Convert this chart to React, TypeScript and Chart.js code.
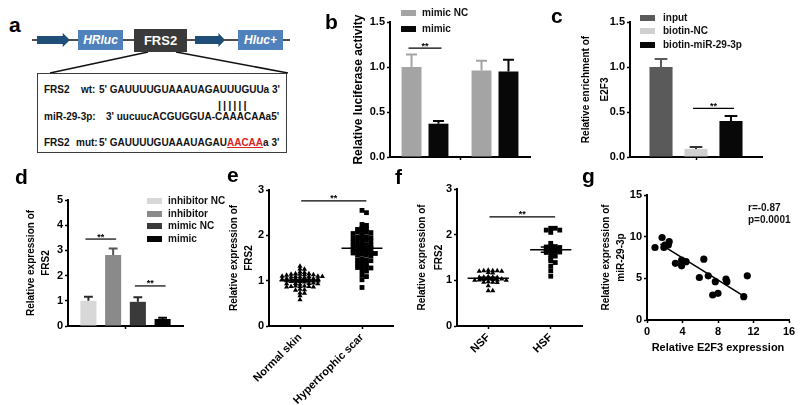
import React, { useEffect, useRef } from 'react';
import { Chart, registerables } from 'chart.js';
Chart.register(...registerables);

const FONT = '"Liberation Sans", Arial, Helvetica, sans-serif';

// ---------- panel b : luciferase ----------
const bGroups = ['FRS2 wt', 'FRS2 mut'];
const bSeriesNames = ['mimic NC', 'mimic'];
const bMimicNC = [1.0, 0.96];
const bMimicNCErr = [0.14, 0.11];
const bMimic = [0.37, 0.95];
const bMimicErr = [0.03, 0.13];
const bSigLevels = [1.21];
const bTitle = 'Relative luciferase activity';
const bColors = ['#a4a4a4', '#080808'];

// ---------- panel c : RNA pull-down ----------
const cGroups = ['E2F3'];
const cSeriesNames = ['input', 'biotin-NC', 'biotin-miR-29-3p'];
const cValues = [1.0, 0.09, 0.4];
const cErr = [0.09, 0.02, 0.055];
const cSigLevels = [0.54];
const cTitle = ['Relative enrichment of', 'E2F3'];
const cColors = ['#5a5a5a', '#d0d0d0', '#080808'];
const cErrColors = ['#5a5a5a', '#333333', '#080808'];

// ---------- panel d : FRS2 expression ----------
const dGroups = ['FRS2'];
const dSeriesNames = ['inhibitor NC', 'inhibitor', 'mimic NC', 'mimic'];
const dValues = [1.0, 2.82, 0.96, 0.28];
const dErr = [0.16, 0.26, 0.18, 0.05];
const dSigLevels = [3.45, 1.59];
const dTitle = ['Relative expression of', 'FRS2'];
const dColors = ['#d8d8d8', '#8a8a8a', '#3a3a3a', '#050505'];
const dErrColors = ['#2a2a2a', '#555555', '#2a2a2a', '#050505'];

// ---------- panel e : tissue ----------
const eCategories = ['Normal skin', 'Hypertrophic scar'];
const eNormalSkin = [
  1.32, 1.26, 1.25, 1.19, 1.18, 1.15, 1.14, 1.14, 1.13, 1.13, 1.12, 1.15,
  1.1, 1.09, 1.09, 1.08, 1.08, 1.07, 1.1, 1.09, 1.05, 1.04, 1.04, 1.03, 1.03,
  1.02, 1.05, 1.04, 1.03, 1.0, 0.99, 0.99, 0.98, 0.98, 0.97, 1.0, 0.99, 0.94,
  0.93, 0.93, 0.92, 0.95, 0.94, 0.88, 0.87, 0.87, 0.86, 0.86, 0.88, 0.87,
  0.81, 0.8, 0.79, 0.73, 0.72, 0.67, 0.58,
];
const eHypertrophicScar = [
  2.55, 2.5, 2.24, 2.22, 2.16, 2.15, 2.13, 2.11, 2.08, 2.07, 2.06, 2.05, 2.04,
  1.98, 1.97, 1.96, 1.95, 1.94, 1.93, 1.89, 1.88, 1.87, 1.86, 1.85, 1.8, 1.79,
  1.78, 1.77, 1.76, 1.75, 1.73, 1.72, 1.71, 1.7, 1.69, 1.68, 1.65, 1.64, 1.63,
  1.62, 1.61, 1.6, 1.58, 1.57, 1.56, 1.55, 1.47, 1.46, 1.45, 1.44, 1.39, 1.38,
  1.37, 1.31, 1.3, 1.29, 1.28, 1.22, 1.21, 1.12, 1.09, 1.02, 0.85,
];
const eSigLevel = 2.76;
const eTitle = ['Relative expression of', 'FRS2'];

// ---------- panel f : fibroblasts ----------
const fCategories = ['NSF', 'HSF'];
const fNSF = [
  1.22, 1.21, 1.21, 1.2, 1.21, 1.2, 1.17, 1.16, 1.08, 1.07, 1.07, 1.06, 1.06,
  1.03, 1.03, 1.02, 1.02, 1.01, 1.01, 1.0, 1.0, 0.97, 0.96, 0.96, 0.95, 0.88,
  0.77, 0.77,
];
const fHSF = [
  2.14, 2.14, 2.1, 2.1, 2.05, 1.81, 1.75, 1.74, 1.73, 1.72, 1.69, 1.68, 1.67,
  1.64, 1.63, 1.62, 1.61, 1.55, 1.53, 1.48, 1.43, 1.39, 1.31, 1.21, 1.09,
];
const fSigLevel = 2.39;
const fTitle = ['Relative expression of', 'FRS2'];

// ---------- panel g : correlation ----------
const gE2F3 = [0.9, 1.7, 1.9, 2.0, 2.4, 2.5, 3.2, 3.9, 3.9, 4.4, 6.4, 5.9, 6.9, 7.7, 7.4, 8.0, 8.9, 9.0, 10.9, 11.3];
const gMiR = [8.7, 9.9, 8.7, 9.0, 9.0, 9.4, 6.8, 7.2, 6.5, 7.0, 7.3, 5.1, 5.3, 4.6, 3.0, 3.2, 4.9, 4.6, 2.8, 5.3];
const gFitX = [1.5, 11.0];
const gFitY = [9.1, 2.8];
const gStats = ['r=-0.87', 'p=0.0001'];
const gXTitle = 'Relative E2F3 expression';
const gYTitle = ['Relative expression of', 'miR-29-3p'];

// ---------------- helpers ----------------
function yAxis(o: { min: number; max: number; step: number; title: any; size: number; lh: number; width: number; dec?: number }) {
  return {
    type: 'linear',
    min: o.min,
    max: o.max,
    ticks: {
      stepSize: o.step,
      color: '#000',
      padding: 2,
      font: { family: FONT, size: 11, weight: 'bold' },
      callback: (v: any) => (o.dec ? Number(v).toFixed(o.dec) : String(v)),
    },
    grid: { drawOnChartArea: false, drawTicks: true, tickLength: 3, tickColor: '#000', tickWidth: 1.5 },
    border: { display: true, color: '#000', width: 2 },
    title: {
      display: true,
      text: o.title,
      color: '#000',
      padding: 0,
      font: { family: FONT, size: o.size, weight: 'bold', lineHeight: o.lh + 'px' },
    },
    afterFit: (s: any) => {
      s.width = o.width;
    },
  };
}

function barX(height: number, offsetGrid: boolean, tickIndex: number) {
  return {
    type: 'category',
    ticks: { display: false },
    grid: {
      drawOnChartArea: false,
      drawTicks: true,
      tickLength: 3,
      tickWidth: 1.5,
      offset: offsetGrid,
      tickColor: (c: any) => (c.index === tickIndex ? '#000' : 'rgba(0,0,0,0)'),
    },
    border: { display: true, color: '#000', width: 2 },
    afterFit: (s: any) => {
      s.height = height;
    },
  };
}

function baseOptions(padding: any) {
  return {
    responsive: false,
    animation: false,
    events: [],
    layout: { padding },
    plugins: { legend: { display: false }, tooltip: { enabled: false } },
  };
}

const errorBarPlugin = (errs: number[][], colors: string[]) => ({
  id: 'errorBars',
  afterDatasetsDraw(chart: any) {
    const ctx = chart.ctx;
    const y = chart.scales.y;
    errs.forEach((arr, di) => {
      const meta = chart.getDatasetMeta(di);
      meta.data.forEach((el: any, j: number) => {
        const v = chart.data.datasets[di].data[j] as number;
        const top = y.getPixelForValue(v + arr[j]);
        const cap = el.width * 0.55;
        ctx.save();
        ctx.strokeStyle = colors[di];
        ctx.lineWidth = 2;
        ctx.beginPath();
        ctx.moveTo(el.x, el.y);
        ctx.lineTo(el.x, top);
        ctx.moveTo(el.x - cap / 2, top);
        ctx.lineTo(el.x + cap / 2, top);
        ctx.stroke();
        ctx.restore();
      });
    });
  },
});

function drawSig(ctx: any, xa: number, xb: number, yy: number) {
  ctx.save();
  ctx.strokeStyle = '#000';
  ctx.lineWidth = 1.2;
  ctx.beginPath();
  ctx.moveTo(xa, yy);
  ctx.lineTo(xb, yy);
  ctx.stroke();
  ctx.fillStyle = '#000';
  ctx.font = `bold 9px ${FONT}`;
  ctx.textAlign = 'center';
  ctx.textBaseline = 'alphabetic';
  ctx.fillText('**', (xa + xb) / 2, yy + 0.5);
  ctx.restore();
}

const barSigPlugin = (pairs: number[][], levels: number[]) => ({
  id: 'barSig',
  afterDatasetsDraw(chart: any) {
    const y = chart.scales.y;
    pairs.forEach((p, k) => {
      const a = chart.getDatasetMeta(p[0]).data[p[1]];
      const b = chart.getDatasetMeta(p[2]).data[p[3]];
      drawSig(chart.ctx, a.x - 3, b.x + 3, y.getPixelForValue(levels[k]));
    });
  },
});

const swarmStatsPlugin = (groups: number[][], sigY: number) => ({
  id: 'swarmStats',
  afterDatasetsDraw(chart: any) {
    const ctx = chart.ctx;
    const xs = chart.scales.x;
    const ys = chart.scales.y;
    ctx.save();
    ctx.strokeStyle = '#000';
    ctx.lineWidth = 1.5;
    groups.forEach((vals, i) => {
      const n = vals.length;
      const m = vals.reduce((a, b) => a + b, 0) / n;
      const sd = Math.sqrt(vals.reduce((a, b) => a + (b - m) * (b - m), 0) / (n - 1));
      const se = sd / Math.sqrt(n);
      const ym = ys.getPixelForValue(m);
      const yt = ys.getPixelForValue(m + se);
      const yb = ys.getPixelForValue(m - se);
      const l = xs.getPixelForValue(i - 0.33);
      const r = xs.getPixelForValue(i + 0.33);
      const cl = xs.getPixelForValue(i - 0.16);
      const cr = xs.getPixelForValue(i + 0.16);
      const cx = xs.getPixelForValue(i);
      ctx.beginPath();
      ctx.moveTo(l, ym);
      ctx.lineTo(r, ym);
      ctx.moveTo(cx, yt);
      ctx.lineTo(cx, yb);
      ctx.moveTo(cl, yt);
      ctx.lineTo(cr, yt);
      ctx.moveTo(cl, yb);
      ctx.lineTo(cr, yb);
      ctx.stroke();
    });
    ctx.restore();
    drawSig(ctx, xs.getPixelForValue(0.02), xs.getPixelForValue(1.07), ys.getPixelForValue(sigY));
  },
});

// beeswarm layout: horizontal offsets computed from the values
function swarm(values: number[], cat: number, stepX: number, minDy: number) {
  const placed: { x: number; y: number }[] = [];
  const sorted = [...values].sort((a, b) => b - a);
  for (const v of sorted) {
    let k = 0;
    let off = 0;
    for (;;) {
      const cands = k === 0 ? [0] : [k * stepX, -k * stepX];
      let found: number | null = null;
      for (const c of cands) {
        const hit = placed.some((p) => Math.abs(p.y - v) < minDy && Math.abs(p.x - (cat + c)) < stepX * 0.999);
        if (!hit) {
          found = c;
          break;
        }
      }
      if (found !== null) {
        off = found;
        break;
      }
      k++;
    }
    placed.push({ x: cat + off, y: v });
  }
  return placed;
}

function swarmConfig(o: {
  cats: string[];
  groups: number[][];
  styles: string[];
  radii: number[];
  sigY: number;
  title: string[];
  lh: number;
  yWidth: number;
  xHeight: number;
  padding: any;
}) {
  return {
    type: 'scatter',
    data: {
      datasets: o.groups.map((vals, i) => ({
        label: o.cats[i],
        data: swarm(vals, i, 0.072, 0.05),
        pointStyle: o.styles[i],
        pointRadius: o.radii[i],
        pointBackgroundColor: '#000',
        pointBorderColor: '#000',
        pointBorderWidth: 0,
        clip: false,
      })),
    },
    options: {
      ...baseOptions(o.padding),
      scales: {
        x: {
          type: 'linear',
          min: -0.5,
          max: 1.5,
          afterBuildTicks: (s: any) => {
            s.ticks = o.cats.map((_, i) => ({ value: i }));
          },
          ticks: {
            autoSkip: false,
            minRotation: 45,
            maxRotation: 45,
            padding: 2,
            color: '#000',
            font: { family: FONT, size: 11, weight: 'bold' },
            callback: (_v: any, idx: number) => o.cats[idx],
          },
          grid: { drawOnChartArea: false, drawTicks: true, tickLength: 3, tickColor: '#000', tickWidth: 1.5 },
          border: { display: true, color: '#000', width: 2 },
          afterFit: (s: any) => {
            s.height = o.xHeight;
          },
        },
        y: yAxis({ min: 0, max: 3, step: 1, title: o.title, size: 10, lh: o.lh, width: o.yWidth }),
      },
    },
    plugins: [swarmStatsPlugin(o.groups, o.sigY)],
  };
}

// ---------------- chart configs ----------------
const makeB = () => ({
  type: 'bar',
  data: {
    labels: bGroups,
    datasets: [
      { label: bSeriesNames[0], data: bMimicNC, backgroundColor: bColors[0], categoryPercentage: 0.77, barPercentage: 0.74 },
      { label: bSeriesNames[1], data: bMimic, backgroundColor: bColors[1], categoryPercentage: 0.77, barPercentage: 0.74 },
    ],
  },
  options: {
    ...baseOptions({ top: 22, right: 13, left: 0, bottom: 0 }),
    scales: {
      x: barX(18, true, 1),
      y: yAxis({ min: 0, max: 1.5, step: 0.5, title: bTitle, size: 12, lh: 14, width: 38, dec: 1 }),
    },
  },
  plugins: [errorBarPlugin([bMimicNCErr, bMimicErr], bColors), barSigPlugin([[0, 0, 1, 0]], bSigLevels)],
});

const makeC = () => ({
  type: 'bar',
  data: {
    labels: cGroups,
    datasets: cSeriesNames.map((name, i) => ({
      label: name,
      data: [cValues[i]],
      backgroundColor: cColors[i],
      categoryPercentage: 0.795,
      barPercentage: 0.66,
    })),
  },
  options: {
    ...baseOptions({ top: 22, right: 18, left: 0, bottom: 0 }),
    scales: {
      x: barX(18, false, 0),
      y: yAxis({ min: 0, max: 1.5, step: 0.5, title: cTitle, size: 10, lh: 19, width: 53, dec: 1 }),
    },
  },
  plugins: [errorBarPlugin(cErr.map((e) => [e]), cErrColors), barSigPlugin([[1, 0, 2, 0]], cSigLevels)],
});

const makeD = () => ({
  type: 'bar',
  data: {
    labels: dGroups,
    datasets: dSeriesNames.map((name, i) => ({
      label: name,
      data: [dValues[i]],
      backgroundColor: dColors[i],
      categoryPercentage: 0.86,
      barPercentage: 0.65,
    })),
  },
  options: {
    ...baseOptions({ top: 15, right: 32, left: 0, bottom: 0 }),
    scales: {
      x: barX(19, false, 0),
      y: yAxis({ min: 0, max: 5, step: 1, title: dTitle, size: 10, lh: 14.5, width: 44 }),
    },
  },
  plugins: [
    errorBarPlugin(dErr.map((e) => [e]), dErrColors),
    barSigPlugin([[0, 0, 1, 0], [2, 0, 3, 0]], dSigLevels),
  ],
});

const makeE = () =>
  swarmConfig({
    cats: eCategories,
    groups: [eNormalSkin, eHypertrophicScar],
    styles: ['triangle', 'rect'],
    radii: [3, 3.4],
    sigY: eSigLevel,
    title: eTitle,
    lh: 15,
    yWidth: 42,
    xHeight: 79,
    padding: { top: 10, right: 7, left: 0, bottom: 0 },
  });

const makeF = () =>
  swarmConfig({
    cats: fCategories,
    groups: [fNSF, fHSF],
    styles: ['triangle', 'rect'],
    radii: [3, 3.4],
    sigY: fSigLevel,
    title: fTitle,
    lh: 16.5,
    yWidth: 43,
    xHeight: 79,
    padding: { top: 9, right: 8, left: 0, bottom: 0 },
  });

const makeG = () => ({
  type: 'scatter',
  data: {
    datasets: [
      {
        label: 'samples',
        data: gE2F3.map((x, i) => ({ x, y: gMiR[i] })),
        pointRadius: 3.6,
        pointBackgroundColor: '#000',
        pointBorderWidth: 0,
        clip: false,
      },
      {
        label: 'fit',
        data: gFitX.map((x, i) => ({ x, y: gFitY[i] })),
        showLine: true,
        borderColor: '#000',
        borderWidth: 1.6,
        pointRadius: 0,
      },
    ],
  },
  options: {
    ...baseOptions({ top: 15, right: 9, left: 0, bottom: 0 }),
    scales: {
      x: {
        type: 'linear',
        min: 0,
        max: 16,
        ticks: { stepSize: 4, color: '#000', padding: 2, font: { family: FONT, size: 11, weight: 'bold' } },
        grid: { drawOnChartArea: false, drawTicks: true, tickLength: 3, tickColor: '#000', tickWidth: 1.5 },
        border: { display: true, color: '#000', width: 2 },
        title: { display: true, text: gXTitle, color: '#000', padding: 0, font: { family: FONT, size: 11, weight: 'bold', lineHeight: '14px' } },
        afterFit: (s: any) => {
          s.height = 35;
        },
      },
      y: yAxis({ min: 0, max: 15, step: 5, title: gYTitle, size: 10, lh: 14.5, width: 48 }),
    },
  },
});

// ---------------- components ----------------
type Box = { left: number; top: number; width: number; height: number };

function ChartCanvas({ box, make }: { box: Box; make: () => any }) {
  const ref = useRef<HTMLCanvasElement>(null);
  useEffect(() => {
    const chart = new Chart(ref.current as HTMLCanvasElement, make());
    return () => chart.destroy();
  }, []);
  return (
    <canvas
      ref={ref}
      width={box.width}
      height={box.height}
      style={{ position: 'absolute', left: box.left, top: box.top, width: box.width, height: box.height }}
    />
  );
}

function Legend({ left, textLeft, tops, names, colors }: { left: number; textLeft: number; tops: number[]; names: string[]; colors: string[] }) {
  return (
    <>
      {names.map((n, i) => (
        <React.Fragment key={n}>
          <div style={{ position: 'absolute', left, top: tops[i] - 3, width: 15, height: 6, background: colors[i] }} />
          <div
            style={{
              position: 'absolute',
              left: textLeft,
              top: tops[i],
              transform: 'translateY(-50%)',
              font: `bold 10px ${FONT}`,
              lineHeight: '12px',
              whiteSpace: 'nowrap',
              color: '#111',
            }}
          >
            {n}
          </div>
        </React.Fragment>
      ))}
    </>
  );
}

function Letter({ ch, left, baseline }: { ch: string; left: number; baseline: number }) {
  return (
    <div style={{ position: 'absolute', left, top: baseline - 17.8, font: `bold 21px ${FONT}`, lineHeight: '21px', color: '#000' }}>
      {ch}
    </div>
  );
}

const ARROW = '#1f4e79';
const BOXBLUE = '#4f81bd';
const seqStyle: any = { position: 'absolute', font: `bold 10px ${FONT}`, lineHeight: '12px', whiteSpace: 'nowrap', transform: 'translateY(-50%)', color: '#111' };

function PanelA() {
  const arrowClip = 'polygon(0 22%, 78% 22%, 78% 0, 100% 50%, 78% 100%, 78% 78%, 0 78%)';
  return (
    <>
      <svg style={{ position: 'absolute', left: 0, top: 0 }} width={300} height={160}>
        <line x1={32} y1={40} x2={290} y2={40} stroke="#111" strokeWidth={1.5} />
        <line x1={148} y1={52} x2={50} y2={73} stroke="#111" strokeWidth={1.5} />
        <line x1={176} y1={52} x2={288} y2={73} stroke="#111" strokeWidth={1.5} />
      </svg>
      <div style={{ position: 'absolute', left: 37, top: 33, width: 33, height: 14, background: ARROW, clipPath: arrowClip }} />
      <div style={{ position: 'absolute', left: 195, top: 33, width: 30, height: 14, background: ARROW, clipPath: arrowClip }} />
      <div
        style={{ position: 'absolute', left: 78, top: 30, width: 45, height: 20, background: BOXBLUE, color: '#fff', font: `italic bold 12px ${FONT}`, lineHeight: '20px', textAlign: 'center' }}
      >
        HRluc
      </div>
      <div
        style={{ position: 'absolute', left: 134, top: 29, width: 53, height: 23, background: '#3a3a3a', color: '#fff', font: `bold 13px ${FONT}`, lineHeight: '23px', textAlign: 'center' }}
      >
        FRS2
      </div>
      <div
        style={{ position: 'absolute', left: 238, top: 30, width: 45, height: 20, background: BOXBLUE, color: '#fff', font: `italic bold 12px ${FONT}`, lineHeight: '20px', textAlign: 'center' }}
      >
        Hluc+
      </div>
      <div style={{ position: 'absolute', left: 37, top: 73, width: 248, height: 78, border: '1.5px solid #3c3c3c', background: '#fff' }} />
      <div style={{ ...seqStyle, left: 44, top: 90 }}>FRS2</div>
      <div style={{ ...seqStyle, left: 81, top: 90 }}>wt:</div>
      <div style={{ ...seqStyle, left: 99, top: 90 }}>5' GAUUUUGUAAAUAGAUUUGUUa 3'</div>
      <div style={{ ...seqStyle, left: 218, top: 105, letterSpacing: '2px', font: `bold 11px ${FONT}` }}>||||||</div>
      <div style={{ ...seqStyle, left: 44, top: 117 }}>miR-29-3p:</div>
      <div style={{ ...seqStyle, left: 106, top: 117 }}>3' uucuucACGUGGUA-CAAACAAa5'</div>
      <div style={{ ...seqStyle, left: 44, top: 143 }}>FRS2</div>
      <div style={{ ...seqStyle, left: 76, top: 143 }}>mut:</div>
      <div style={{ ...seqStyle, left: 99, top: 143 }}>
        5' GAUUUUGUAAAUAGAU
        <span style={{ color: '#d22', textDecoration: 'underline' }}>AACAA</span>a 3'
      </div>
    </>
  );
}

export default function App() {
  return (
    <div style={{ position: 'fixed', left: 0, top: 0, width: 800, height: 405, background: '#fff', overflow: 'hidden', fontFamily: FONT }}>
      <PanelA />
      <ChartCanvas box={{ left: 352, top: 0, width: 191, height: 175 }} make={makeB} />
      <ChartCanvas box={{ left: 577, top: 0, width: 203, height: 175 }} make={makeC} />
      <ChartCanvas box={{ left: 24, top: 185, width: 191, height: 160 }} make={makeD} />
      <ChartCanvas box={{ left: 227, top: 180, width: 173, height: 225 }} make={makeE} />
      <ChartCanvas box={{ left: 414, top: 180, width: 176, height: 225 }} make={makeF} />
      <ChartCanvas box={{ left: 599, top: 180, width: 199, height: 175 }} make={makeG} />

      <Legend left={401} textLeft={422} tops={[12.5, 28.5]} names={bSeriesNames} colors={bColors} />
      <Legend left={640} textLeft={663} tops={[18, 31, 44.5]} names={cSeriesNames} colors={cColors} />
      <Legend left={147} textLeft={168} tops={[201, 213.5, 226, 238.5]} names={dSeriesNames} colors={dColors} />

      {gStats.map((s, i) => (
        <div key={s} style={{ position: 'absolute', left: 748, top: 208 + i * 11.5, transform: 'translateY(-50%)', font: `bold 10px ${FONT}`, lineHeight: '12px', color: '#111' }}>
          {s}
        </div>
      ))}

      <Letter ch="a" left={9} baseline={32} />
      <Letter ch="b" left={325} baseline={28.5} />
      <Letter ch="c" left={551} baseline={23} />
      <Letter ch="d" left={15} baseline={183.5} />
      <Letter ch="e" left={227} baseline={182} />
      <Letter ch="f" left={395} baseline={183.5} />
      <Letter ch="g" left={582} baseline={183} />
    </div>
  );
}
